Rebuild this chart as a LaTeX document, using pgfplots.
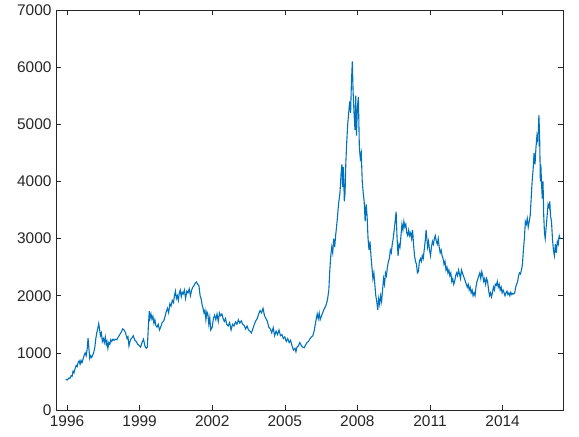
\documentclass[border=0pt]{standalone}
\usepackage{fontspec}
\setmainfont{Liberation Sans}
\usepackage{pgfplots}
\pgfplotsset{compat=1.18}
\definecolor{mlblue}{rgb}{0,0.447,0.741}
\definecolor{mlgray}{rgb}{0.15,0.15,0.15}
\begin{document}
\begin{tikzpicture}
\path[use as bounding box] (-56bp,-27bp) rectangle (523bp,410bp);
\begin{axis}[
    scale only axis,
    width=507bp, height=400bp,
    xmin=1995.545, xmax=2016.496,
    ymin=0, ymax=7000,
    xtick={1996,1999,2002,2005,2008,2011,2014},
    ytick={0,1000,2000,3000,4000,5000,6000,7000},
    tick pos=both,
    tick align=inside,
    major tick length=5bp,
    axis line style={mlgray, line width=0.6pt},
    tick style={mlgray, line width=0.6pt},
    ticklabel style={font=\fontsize{15.5}{17}\selectfont, text=mlgray},
    /pgf/number format/1000 sep={},
    /pgf/number format/assume math mode=true,
    xticklabel style={yshift=-2.5bp},
    yticklabel style={xshift=-1bp},
]
\addplot[mlblue, line width=1.1pt] coordinates {
(1995.95,540) (1996.00,525) (1996.04,540) (1996.08,560) (1996.12,555) (1996.17,600)
(1996.21,590) (1996.25,680) (1996.29,650) (1996.33,720) (1996.38,780) (1996.42,760)
(1996.46,830) (1996.50,860) (1996.54,800) (1996.58,870) (1996.62,830) (1996.67,900)
(1996.71,960) (1996.75,1000) (1996.79,950) (1996.83,1050) (1996.87,1258) (1996.90,1100)
(1996.94,900) (1996.98,950) (1997.02,920) (1997.06,960) (1997.10,1000) (1997.15,1100)
(1997.19,1250) (1997.23,1350) (1997.27,1420) (1997.31,1510) (1997.35,1400) (1997.38,1300)
(1997.42,1350) (1997.46,1200) (1997.50,1250) (1997.54,1180) (1997.58,1280) (1997.62,1150)
(1997.65,1200) (1997.69,1080) (1997.73,1180) (1997.77,1150) (1997.81,1230) (1997.85,1200)
(1997.90,1240) (1997.94,1220) (1998.00,1240) (1998.06,1230) (1998.12,1280) (1998.18,1320)
(1998.25,1370) (1998.30,1420) (1998.36,1400) (1998.42,1350) (1998.48,1250) (1998.52,1280)
(1998.56,1120) (1998.62,1230) (1998.68,1260) (1998.74,1300) (1998.80,1220) (1998.86,1200)
(1998.92,1150) (1998.98,1130) (1999.04,1100) (1999.10,1180) (1999.16,1240) (1999.22,1120)
(1999.27,1080) (1999.32,1100) (1999.36,1450) (1999.40,1730) (1999.43,1600) (1999.47,1680)
(1999.51,1590) (1999.55,1640) (1999.59,1520) (1999.63,1580) (1999.67,1480) (1999.72,1450)
(1999.77,1500) (1999.82,1400) (1999.88,1460) (1999.93,1530) (2000.00,1560) (2000.06,1650)
(2000.10,1720) (2000.15,1780) (2000.20,1700) (2000.25,1860) (2000.30,1820) (2000.35,1920)
(2000.40,1880) (2000.44,2000) (2000.48,2080) (2000.52,1950) (2000.56,2000) (2000.60,1920)
(2000.64,2050) (2000.68,2100) (2000.72,1980) (2000.76,2060) (2000.80,2030) (2000.85,2100)
(2000.90,1950) (2000.95,2080) (2001.00,2050) (2001.05,2120) (2001.10,2000) (2001.15,2100)
(2001.20,2150) (2001.25,2180) (2001.30,2220) (2001.35,2240) (2001.40,2200) (2001.45,2180)
(2001.50,2000) (2001.54,1950) (2001.58,1850) (2001.62,1780) (2001.66,1700) (2001.70,1750)
(2001.74,1580) (2001.78,1720) (2001.82,1680) (2001.86,1500) (2001.90,1620) (2001.94,1400)
(2002.00,1450) (2002.05,1600) (2002.10,1660) (2002.15,1580) (2002.20,1680) (2002.25,1550)
(2002.30,1700) (2002.35,1650) (2002.40,1680) (2002.45,1600) (2002.50,1550) (2002.55,1600)
(2002.60,1500) (2002.66,1470) (2002.72,1530) (2002.78,1400) (2002.84,1500) (2002.90,1470)
(2002.96,1540) (2003.02,1500) (2003.08,1580) (2003.14,1520) (2003.20,1560) (2003.26,1500)
(2003.32,1480) (2003.38,1420) (2003.44,1470) (2003.50,1400) (2003.56,1380) (2003.62,1350)
(2003.68,1420) (2003.74,1500) (2003.80,1560) (2003.86,1600) (2003.92,1680) (2003.98,1740)
(2004.04,1700) (2004.10,1780) (2004.16,1650) (2004.22,1600) (2004.28,1550) (2004.34,1450)
(2004.40,1420) (2004.46,1350) (2004.52,1440) (2004.58,1300) (2004.64,1380) (2004.70,1320)
(2004.76,1400) (2004.82,1300) (2004.88,1320) (2004.94,1250) (2005.00,1280) (2005.06,1200)
(2005.12,1250) (2005.18,1180) (2005.24,1220) (2005.30,1120) (2005.36,1050) (2005.42,1080)
(2005.46,1020) (2005.50,1100) (2005.56,1120) (2005.62,1180) (2005.68,1130) (2005.74,1100)
(2005.80,1090) (2005.86,1140) (2005.92,1180) (2005.98,1200) (2006.04,1250) (2006.10,1280)
(2006.16,1300) (2006.22,1400) (2006.28,1550) (2006.34,1680) (2006.38,1600) (2006.42,1700)
(2006.46,1580) (2006.52,1650) (2006.58,1720) (2006.64,1780) (2006.70,1830) (2006.76,1920)
(2006.82,2100) (2006.86,2450) (2006.90,2700) (2006.94,2850) (2006.98,2750) (2007.02,3000)
(2007.06,2850) (2007.10,3050) (2007.16,3300) (2007.22,3600) (2007.28,3800) (2007.32,4100)
(2007.36,4300) (2007.39,3900) (2007.42,4250) (2007.46,3650) (2007.49,3800) (2007.52,4300)
(2007.56,4700) (2007.60,5000) (2007.64,5200) (2007.68,5400) (2007.72,5200) (2007.75,5700)
(2007.79,6100) (2007.82,5600) (2007.86,5200) (2007.90,4900) (2007.93,5500) (2007.96,4800)
(2008.00,5300) (2008.04,5480) (2008.08,4600) (2008.12,4400) (2008.16,4500) (2008.20,4000)
(2008.24,3800) (2008.28,3650) (2008.32,3300) (2008.36,3600) (2008.40,3400) (2008.44,3000)
(2008.48,2800) (2008.52,2950) (2008.56,2700) (2008.60,2500) (2008.64,2300) (2008.68,2400)
(2008.72,2200) (2008.76,2000) (2008.80,1900) (2008.84,1750) (2008.88,1950) (2008.92,1850)
(2008.96,2000) (2009.00,1900) (2009.04,2100) (2009.08,2300) (2009.12,2200) (2009.16,2400)
(2009.20,2350) (2009.24,2500) (2009.28,2600) (2009.32,2650) (2009.36,2800) (2009.40,2750)
(2009.44,2900) (2009.48,3000) (2009.52,3150) (2009.56,3300) (2009.60,3470) (2009.64,3000)
(2009.68,2700) (2009.72,2900) (2009.76,2850) (2009.80,3050) (2009.84,3250) (2009.88,3150)
(2009.92,3300) (2009.96,3200) (2010.00,3250) (2010.04,3100) (2010.08,3050) (2010.12,3150)
(2010.16,3050) (2010.20,3100) (2010.24,3000) (2010.28,3150) (2010.32,2900) (2010.36,2700)
(2010.40,2600) (2010.44,2550) (2010.48,2400) (2010.52,2420) (2010.56,2600) (2010.60,2650)
(2010.64,2600) (2010.68,2700) (2010.72,2650) (2010.76,2800) (2010.80,2950) (2010.84,3150)
(2010.87,3000) (2010.90,2850) (2010.94,2950) (2010.98,2800) (2011.02,2700) (2011.06,2850)
(2011.10,2950) (2011.14,2900) (2011.18,3000) (2011.22,3050) (2011.26,2950) (2011.30,2900)
(2011.34,3000) (2011.38,2850) (2011.42,2750) (2011.46,2800) (2011.50,2700) (2011.54,2650)
(2011.58,2550) (2011.62,2600) (2011.66,2450) (2011.70,2500) (2011.74,2400) (2011.78,2450)
(2011.82,2350) (2011.86,2400) (2011.90,2250) (2011.94,2300) (2011.98,2200) (2012.02,2250)
(2012.06,2350) (2012.10,2400) (2012.14,2350) (2012.18,2450) (2012.22,2380) (2012.26,2300)
(2012.30,2450) (2012.34,2400) (2012.38,2350) (2012.42,2300) (2012.46,2250) (2012.50,2200)
(2012.54,2150) (2012.58,2200) (2012.62,2100) (2012.66,2150) (2012.70,2050) (2012.74,2100)
(2012.78,2000) (2012.82,2050) (2012.86,2000) (2012.90,2150) (2012.94,2250) (2012.98,2300)
(2013.02,2350) (2013.06,2400) (2013.10,2300) (2013.14,2420) (2013.18,2350) (2013.22,2250)
(2013.26,2300) (2013.30,2200) (2013.34,2300) (2013.38,2250) (2013.42,2100) (2013.46,2000)
(2013.50,2050) (2013.54,1980) (2013.58,2050) (2013.62,2150) (2013.66,2100) (2013.70,2200)
(2013.74,2180) (2013.78,2250) (2013.82,2150) (2013.86,2200) (2013.90,2100) (2013.94,2150)
(2013.98,2050) (2014.02,2100) (2014.06,2050) (2014.10,2000) (2014.14,2050) (2014.18,2080)
(2014.22,2020) (2014.26,2050) (2014.30,2000) (2014.34,2060) (2014.38,2020) (2014.42,2040)
(2014.46,2030) (2014.50,2050) (2014.54,2150) (2014.58,2200) (2014.62,2250) (2014.66,2350)
(2014.70,2400) (2014.74,2380) (2014.78,2450) (2014.82,2550) (2014.86,2800) (2014.90,3000)
(2014.94,3300) (2014.98,3250) (2015.02,3350) (2015.06,3200) (2015.10,3300) (2015.14,3400)
(2015.18,3700) (2015.22,4000) (2015.26,4200) (2015.30,4500) (2015.34,4300) (2015.38,4600)
(2015.42,4800) (2015.46,4700) (2015.50,5160) (2015.53,4800) (2015.56,4000) (2015.58,4300)
(2015.61,3950) (2015.64,3700) (2015.67,4000) (2015.70,3400) (2015.73,3100) (2015.76,3000)
(2015.80,3200) (2015.84,3400) (2015.88,3600) (2015.92,3550) (2015.95,3650) (2015.98,3400)
(2016.02,3300) (2016.06,3000) (2016.10,2800) (2016.14,2700) (2016.18,2900) (2016.22,2750)
(2016.26,2950) (2016.30,2900) (2016.34,3050) (2016.38,3000)
};
\end{axis}
\end{tikzpicture}
\end{document}
